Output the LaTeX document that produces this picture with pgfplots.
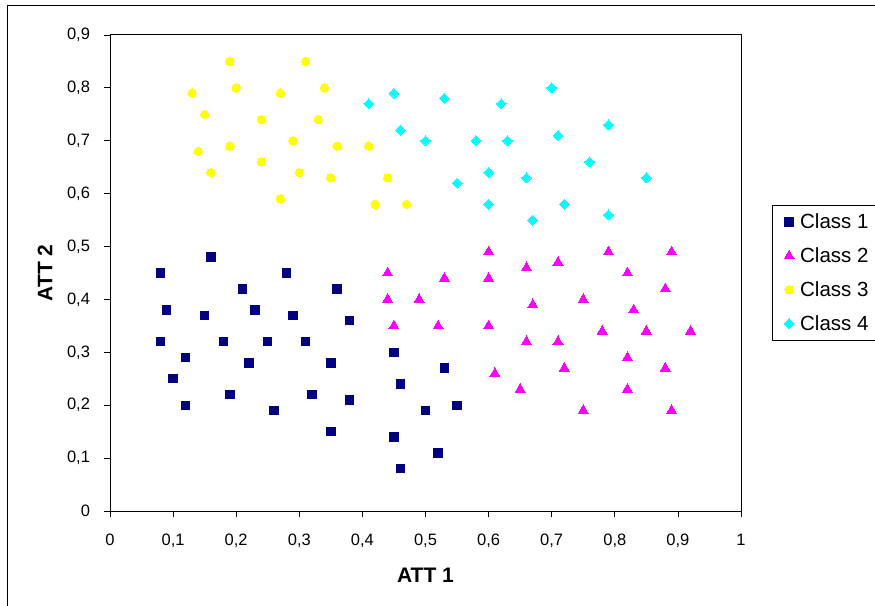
\documentclass[border=0pt]{standalone}
\usepackage{fontspec}
\setmainfont{Liberation Sans}
\usepackage{pgfplots}
\pgfplotsset{compat=1.18}
\definecolor{cnavy}{HTML}{000080}
\definecolor{cmag}{HTML}{FF00FF}
\definecolor{cyel}{HTML}{FFFF00}
\definecolor{ccyan}{HTML}{00FFFF}
\begin{document}
\begin{tikzpicture}[x=1pt,y=1pt]
\useasboundingbox (0,0) rectangle (875,605);
\begin{scope}
\clip (0,0) rectangle (875,605);
\draw[line width=1pt,black] (7,599) rectangle (900,-20);
\begin{axis}[
  at={(110pt,94pt)}, anchor=south west,
  scale only axis, width=631pt, height=476pt,
  xmin=0, xmax=1, ymin=0, ymax=0.9,
  xtick={0,0.1,0.2,0.3,0.4,0.5,0.6,0.7,0.8,0.9,1},
  ytick={0,0.1,0.2,0.3,0.4,0.5,0.6,0.7,0.8,0.9},
  xtick pos=bottom, ytick pos=left,
  tick align=outside, major tick length=6pt,
  tick style={black, line width=0.8pt},
  axis line style={black, line width=1pt},
  /pgf/number format/use comma,
  /pgf/number format/assume math mode=true,
  ticklabel style={font=\fontsize{16.5}{19}\selectfont},
  yticklabel style={xshift=-10.5pt},
  xticklabel style={yshift=-13.5pt},
  xlabel={ATT 1}, ylabel={ATT 2},
  xlabel style={at={(axis description cs:0.5,-0.1345)}, anchor=center, font=\fontsize{21}{25}\selectfont\bfseries},
  ylabel style={at={(axis description cs:-0.103,0.5)}, anchor=center, font=\fontsize{21}{25}\selectfont\bfseries},
  legend style={at={(axis description cs:1.049,0.643)}, anchor=north west,
    draw=black, line width=1pt, font=\fontsize{20.5}{24}\selectfont,
    row sep=13.5pt, inner xsep=2pt, inner ysep=6.5pt},
  legend image code/.code={\path (0cm,0cm) (0.8cm,0cm); \draw[#1] plot coordinates {(0.5cm,0cm)};},
  legend cell align=left,
  clip=false,
]
\addplot[only marks, mark=square*, mark size=4.2pt, color=cnavy, mark options={line width=0pt}] coordinates {
(0.08,0.45) (0.09,0.38) (0.08,0.32) (0.10,0.25) (0.12,0.29) (0.12,0.20)
(0.16,0.48) (0.15,0.37) (0.18,0.32) (0.19,0.22) (0.21,0.42) (0.22,0.28)
(0.23,0.38) (0.25,0.32) (0.26,0.19) (0.28,0.45) (0.29,0.37) (0.31,0.32)
(0.32,0.22) (0.36,0.42) (0.35,0.28) (0.35,0.15) (0.38,0.36) (0.38,0.21)
(0.45,0.30) (0.45,0.14) (0.46,0.24) (0.46,0.08) (0.50,0.19) (0.53,0.27)
(0.52,0.11) (0.55,0.20)
};
\addlegendentry{Class 1\rule{10pt}{0pt}}
\addplot[only marks, mark=triangle*, mark size=5.8pt, color=cmag, mark options={line width=0pt}] coordinates {
(0.60,0.49) (0.79,0.49) (0.89,0.49) (0.71,0.47) (0.66,0.46) (0.44,0.45)
(0.53,0.44) (0.60,0.44) (0.82,0.45) (0.88,0.42) (0.44,0.40) (0.49,0.40)
(0.67,0.39) (0.75,0.40) (0.83,0.38) (0.45,0.35) (0.52,0.35) (0.60,0.35)
(0.78,0.34) (0.85,0.34) (0.92,0.34) (0.66,0.32) (0.71,0.32) (0.82,0.29)
(0.61,0.26) (0.72,0.27) (0.88,0.27) (0.65,0.23) (0.82,0.23) (0.75,0.19)
(0.89,0.19)
};
\addlegendentry{Class 2\rule{10pt}{0pt}}
\addplot[only marks, mark=*, mark size=4.2pt, color=cyel, mark options={line width=0pt}] coordinates {
(0.19,0.85) (0.31,0.85) (0.13,0.79) (0.20,0.80) (0.27,0.79) (0.34,0.80)
(0.15,0.75) (0.24,0.74) (0.33,0.74) (0.29,0.70) (0.14,0.68) (0.19,0.69)
(0.36,0.69) (0.41,0.69) (0.16,0.64) (0.24,0.66) (0.30,0.64) (0.35,0.63)
(0.44,0.63) (0.27,0.59) (0.42,0.58) (0.47,0.58)
};
\addlegendentry{Class 3\rule{10pt}{0pt}}
\addplot[only marks, mark=square*, mark size=3.5pt, color=ccyan, mark options={rotate=45, line width=0pt}] coordinates {
(0.41,0.77) (0.45,0.79) (0.53,0.78) (0.62,0.77) (0.70,0.80) (0.46,0.72)
(0.50,0.70) (0.58,0.70) (0.63,0.70) (0.71,0.71) (0.79,0.73) (0.76,0.66)
(0.60,0.64) (0.55,0.62) (0.66,0.63) (0.85,0.63) (0.60,0.58) (0.72,0.58)
(0.67,0.55) (0.79,0.56)
};
\addlegendentry{Class 4\rule{10pt}{0pt}}
\end{axis}
\end{scope}
\end{tikzpicture}
\end{document}
